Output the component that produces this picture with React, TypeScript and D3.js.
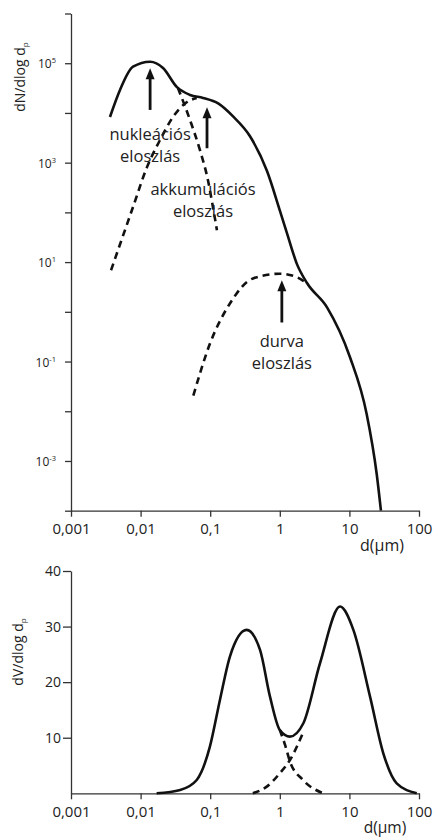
import React, { useRef, useEffect } from "react";
import * as d3 from "d3";

// particle diameter (µm) vs. dN/dlog dp
const numberTotal: [number, number][] = [
  [0.00363, 8.3e3], [0.00506, 2.9e4], [0.00778, 8.5e4], [0.0137, 1.07e5],
  [0.021, 8.0e4], [0.0333, 3.3e4], [0.0513, 2.3e4], [0.0788, 2.0e4],
  [0.13, 1.55e4], [0.213, 8.5e3], [0.373, 3.4e3], [0.655, 680],
  [1.0, 110], [1.27, 38], [1.77, 9], [2.46, 3.8], [4.77, 1.23],
  [10.2, 0.122], [17.7, 8.8e-3], [24.7, 5.4e-4], [28.4, 1e-4],
];
const numberNucleationTail: [number, number][] = [
  [0.0344, 3.18e4], [0.0513, 7.2e3], [0.0713, 1.78e3], [0.0929, 443],
  [0.1096, 127], [0.125, 43.6],
];
const numberAccumulationTail: [number, number][] = [
  [0.00376, 6.86], [0.00778, 128], [0.01236, 813], [0.019, 2.85e3],
  [0.0292, 8.3e3], [0.0465, 1.66e4], [0.064, 2.0e4],
];
const numberCoarse: [number, number][] = [
  [0.0572, 0.0206], [0.0993, 0.23], [0.192, 1.47], [0.412, 4.7],
  [1.0, 5.84], [1.75, 4.99], [2.54, 3.55],
];

// volume distribution dV/dlog dp
const volumeTotal: [number, number][] = [
  [0.017, 0], [0.037, 0.6], [0.064, 2.4], [0.099, 8.4], [0.138, 16.8],
  [0.192, 24.6], [0.334, 29.4], [0.52, 25.8], [0.723, 17.4], [1.0, 11.4],
  [1.4, 10.2], [2.18, 12.6], [3.78, 23.4], [7.33, 33.6], [11.4, 29.4],
  [19.8, 17.4], [30.7, 7.2], [47.8, 1.8], [92.7, 0],
];
const volumeAccumulationTail: [number, number][] = [
  [1.0, 11.4], [1.19, 8.7], [1.4, 5.7], [2.15, 2.4], [4.2, 0],
];
const volumeCoarseTail: [number, number][] = [
  [0.41, 0], [0.65, 1.2], [1.0, 3.6], [1.4, 6.0], [2.14, 10.8],
];

// arrows: [d, from, to]
const modeArrows: [number, number, number][] = [
  [0.0137, 1.15e4, 7.9e4],
  [0.09, 1.95e3, 1.3e4],
  [1.07, 0.61, 4.3],
];
const modeLabels: { d: number; v: number; lines: string[] }[] = [
  { d: 0.0137, v: 2.9e3, lines: ["nukleációs", "eloszlás"] },
  { d: 0.0788, v: 220, lines: ["akkumulációs", "eloszlás"] },
  { d: 1.07, v: 0.2, lines: ["durva", "eloszlás"] },
];

const xTicks = [0.001, 0.01, 0.1, 1, 10, 100];
const xTickLabels = ["0,001", "0,01", "0,1", "1", "10", "100"];
const yDecades = [-4, -3, -2, -1, 0, 1, 2, 3, 4, 5, 6];
const yLabelled = [5, 3, 1, -1, -3];
const volTicks = [10, 20, 30, 40];

const FONT = "'Open Sans', sans-serif";
const INK = "#111";
const AXIS = "#333";

const App = () => {
  const svgRef = useRef<SVGSVGElement>(null);

  useEffect(() => {
    const svg = d3.select(svgRef.current);
    svg.selectAll("*").remove();

    const xTop = d3.scaleLog().domain([0.001, 100]).range([71, 419]);
    const yTop = d3.scaleLog().domain([1e-4, 1e6]).range([510.7, 13.5]);
    const xBot = d3.scaleLog().domain([0.001, 100]).range([71, 419]);
    const yBot = d3.scaleLinear().domain([0, 40]).range([793.3, 571]);

    const styleAxis = (g: any) => {
      g.select(".domain").attr("stroke", AXIS).attr("stroke-width", 1.3);
      g.selectAll(".tick line").attr("stroke", AXIS).attr("stroke-width", 1.3);
      g.selectAll("text")
        .attr("font-family", FONT)
        .attr("fill", "#222");
    };

    // ---- top chart: number distribution ----
    const gxTop = svg
      .append("g")
      .attr("transform", `translate(0,${yTop.range()[0]})`)
      .call(
        d3.axisBottom(xTop)
          .tickValues(xTicks)
          .tickSize(6)
          .tickSizeOuter(0)
          .tickPadding(7)
          .tickFormat((d, i) => xTickLabels[i])
      );
    styleAxis(gxTop);
    gxTop.selectAll("text").attr("font-size", 15);

    const gyTop = svg
      .append("g")
      .attr("transform", `translate(${xTop.range()[0]},0)`)
      .call(
        d3.axisLeft(yTop)
          .tickValues(yDecades.map((e) => Math.pow(10, e)))
          .tickSize(6)
          .tickSizeOuter(0)
          .tickFormat(() => "")
      );
    styleAxis(gyTop);

    yLabelled.forEach((e) => {
      const t = svg
        .append("text")
        .attr("x", 56)
        .attr("y", yTop(Math.pow(10, e)) + 5)
        .attr("text-anchor", "end")
        .attr("font-family", FONT)
        .attr("font-size", 12)
        .attr("fill", "#222");
      t.append("tspan").text("10");
      t.append("tspan")
        .attr("font-size", 7.5)
        .attr("dy", -5)
        .text(e < 0 ? `-${-e}` : `${e}`);
    });

    const lineTop = d3
      .line<[number, number]>()
      .x((d) => xTop(d[0]))
      .y((d) => yTop(d[1]))
      .curve(d3.curveMonotoneX);

    svg.append("path")
      .datum(numberTotal)
      .attr("fill", "none")
      .attr("stroke", INK)
      .attr("stroke-width", 2.6)
      .attr("d", lineTop);

    [numberNucleationTail, numberAccumulationTail, numberCoarse].forEach((s) => {
      svg.append("path")
        .datum(s)
        .attr("fill", "none")
        .attr("stroke", INK)
        .attr("stroke-width", 2.6)
        .attr("stroke-dasharray", "7,5")
        .attr("d", lineTop);
    });

    modeArrows.forEach(([d, from, to]) => {
      const x = xTop(d);
      const y0 = yTop(from);
      const y1 = yTop(to);
      svg.append("line")
        .attr("x1", x).attr("x2", x)
        .attr("y1", y0).attr("y2", y1 + 8)
        .attr("stroke", INK)
        .attr("stroke-width", 2.8);
      svg.append("path")
        .attr("d", `M${x},${y1} L${x - 4.5},${y1 + 11} L${x + 4.5},${y1 + 11} Z`)
        .attr("fill", INK);
    });

    modeLabels.forEach(({ d, v, lines }) => {
      const t = svg
        .append("text")
        .attr("x", xTop(d))
        .attr("y", yTop(v))
        .attr("text-anchor", "middle")
        .attr("font-family", FONT)
        .attr("font-size", 16.5)
        .attr("fill", "#222");
      lines.forEach((l, i) => {
        t.append("tspan")
          .attr("x", xTop(d))
          .attr("dy", i === 0 ? 0 : 22)
          .text(l);
      });
    });

    const yTitle = (cx: number, cy: number, main: string) => {
      const t = svg
        .append("text")
        .attr("transform", `translate(${cx},${cy}) rotate(-90)`)
        .attr("text-anchor", "middle")
        .attr("font-family", FONT)
        .attr("font-size", 14)
        .attr("fill", "#222");
      t.append("tspan").text(main);
      t.append("tspan").attr("font-size", 8).attr("dy", 3).text("p");
    };
    yTitle(25, 77, "dN/dlog d");

    svg.append("text")
      .attr("x", 382)
      .attr("y", 551)
      .attr("text-anchor", "middle")
      .attr("font-family", FONT)
      .attr("font-size", 16)
      .attr("fill", "#222")
      .text("d(μm)");

    // ---- bottom chart: volume distribution ----
    const gxBot = svg
      .append("g")
      .attr("transform", `translate(0,${yBot(0)})`)
      .call(
        d3.axisBottom(xBot)
          .tickValues(xTicks)
          .tickSize(6)
          .tickSizeOuter(0)
          .tickPadding(7)
          .tickFormat((d, i) => xTickLabels[i])
      );
    styleAxis(gxBot);
    gxBot.selectAll("text").attr("font-size", 15);

    const gyBot = svg
      .append("g")
      .attr("transform", `translate(${xBot.range()[0]},0)`)
      .call(
        d3.axisLeft(yBot)
          .tickValues(volTicks)
          .tickSize(8)
          .tickSizeOuter(0)
          .tickPadding(2)
      );
    styleAxis(gyBot);
    gyBot.selectAll("text").attr("font-size", 14);

    const lineBot = d3
      .line<[number, number]>()
      .x((d) => xBot(d[0]))
      .y((d) => yBot(d[1]))
      .curve(d3.curveMonotoneX);

    svg.append("path")
      .datum(volumeTotal)
      .attr("fill", "none")
      .attr("stroke", INK)
      .attr("stroke-width", 2.6)
      .attr("d", lineBot);

    [volumeAccumulationTail, volumeCoarseTail].forEach((s) => {
      svg.append("path")
        .datum(s)
        .attr("fill", "none")
        .attr("stroke", INK)
        .attr("stroke-width", 2.6)
        .attr("stroke-dasharray", "7,5")
        .attr("d", lineBot);
    });

    yTitle(23, 652, "dV/dlog d");

    svg.append("text")
      .attr("x", 385)
      .attr("y", 833)
      .attr("text-anchor", "middle")
      .attr("font-family", FONT)
      .attr("font-size", 15.5)
      .attr("fill", "#222")
      .text("d(μm)");
  }, []);

  return (
    <svg
      ref={svgRef}
      width={434}
      height={839}
      style={{ position: "absolute", left: 0, top: 0, background: "#fff" }}
    ></svg>
  );
};

export default App;
